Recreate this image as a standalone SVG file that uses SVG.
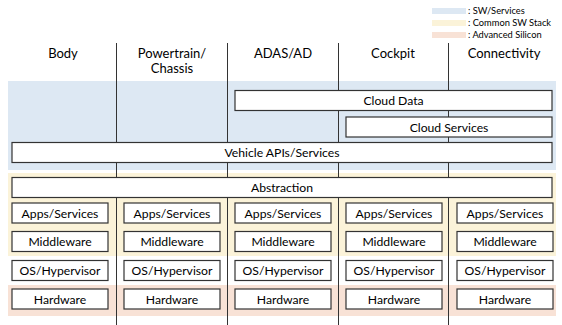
<svg xmlns="http://www.w3.org/2000/svg" width="562" height="325" viewBox="0 0 562 325">
<style>
text{font-family:Lato,"Open Sans",sans-serif;fill:#000;text-anchor:middle}
.h{font-size:13px}
.b{font-size:12.2px}
.lg{font-size:9.3px;text-anchor:start}
.box{fill:#fff;stroke:#333;stroke-width:1.2}
.ln{stroke:#333;stroke-width:1;fill:none}
</style>
<rect width="562" height="325" fill="#fff"/>
<g id="bands">
<rect x="8" y="81" width="548" height="89" fill="#dde8f3"/>
<rect x="8" y="173" width="548" height="83" fill="#fbf3d9"/>
<rect x="8" y="285" width="548" height="31" fill="#f8e2d6"/>
</g>
<g id="legend">
<rect x="432" y="8" width="34" height="6" fill="#dde8f3"/>
<rect x="432" y="20" width="34" height="6" fill="#fbf3d9"/>
<rect x="432" y="32" width="34" height="6" fill="#f8e2d6"/>
<text class="lg" x="468" y="14">: SW/Services</text>
<text class="lg" x="468" y="26">: Common SW Stack</text>
<text class="lg" x="468" y="38">: Advanced Silicon</text>
</g>
<g id="connectors">
<line class="ln" x1="116.5" y1="43" x2="116.5" y2="325"/>
<line class="ln" x1="227.5" y1="43" x2="227.5" y2="325"/>
<line class="ln" x1="338.5" y1="43" x2="338.5" y2="325"/>
<line class="ln" x1="448.5" y1="43" x2="448.5" y2="325"/>
</g>
<g id="headers">
<text class="h" x="63" y="58">Body</text>
<text class="h" x="172" y="58">Powertrain/</text>
<text class="h" x="172" y="73">Chassis</text>
<text class="h" x="283" y="58">ADAS/AD</text>
<text class="h" x="393" y="58">Cockpit</text>
<text class="h" x="504" y="58">Connectivity</text>
</g>
<g id="cloud-data"><rect class="box" x="235" y="90.5" width="317" height="20"/><text class="b" x="393.5" y="105">Cloud Data</text></g>
<g id="cloud-services"><rect class="box" x="346" y="117" width="206" height="20"/><text class="b" x="449" y="131.5">Cloud Services</text></g>
<g id="vehicle-apis"><rect class="box" x="12" y="142.5" width="540" height="20"/><text class="b" x="282" y="157">Vehicle APIs/Services</text></g>
<g id="abstraction"><rect class="box" x="12" y="177.5" width="540" height="20"/><text class="b" x="282" y="192">Abstraction</text></g>
<g id="col1">
<g id="apps1"><rect class="box" x="12" y="203" width="96" height="20"/><text class="b" x="60" y="217.5">Apps/Services</text></g>
<g id="mw1"><rect class="box" x="12" y="231.5" width="96" height="20"/><text class="b" x="60" y="246">Middleware</text></g>
<g id="os1"><rect class="box" x="12" y="260.5" width="96" height="20"/><text class="b" x="60" y="275">OS/Hypervisor</text></g>
<g id="hw1"><rect class="box" x="12" y="289" width="96" height="20"/><text class="b" x="60" y="303.5">Hardware</text></g>
</g>
<g id="col2">
<g id="apps2"><rect class="box" x="124" y="203" width="96" height="20"/><text class="b" x="172" y="217.5">Apps/Services</text></g>
<g id="mw2"><rect class="box" x="124" y="231.5" width="96" height="20"/><text class="b" x="172" y="246">Middleware</text></g>
<g id="os2"><rect class="box" x="124" y="260.5" width="96" height="20"/><text class="b" x="172" y="275">OS/Hypervisor</text></g>
<g id="hw2"><rect class="box" x="124" y="289" width="96" height="20"/><text class="b" x="172" y="303.5">Hardware</text></g>
</g>
<g id="col3">
<g id="apps3"><rect class="box" x="235" y="203" width="96" height="20"/><text class="b" x="283" y="217.5">Apps/Services</text></g>
<g id="mw3"><rect class="box" x="235" y="231.5" width="96" height="20"/><text class="b" x="283" y="246">Middleware</text></g>
<g id="os3"><rect class="box" x="235" y="260.5" width="96" height="20"/><text class="b" x="283" y="275">OS/Hypervisor</text></g>
<g id="hw3"><rect class="box" x="235" y="289" width="96" height="20"/><text class="b" x="283" y="303.5">Hardware</text></g>
</g>
<g id="col4">
<g id="apps4"><rect class="box" x="346" y="203" width="96" height="20"/><text class="b" x="394" y="217.5">Apps/Services</text></g>
<g id="mw4"><rect class="box" x="346" y="231.5" width="96" height="20"/><text class="b" x="394" y="246">Middleware</text></g>
<g id="os4"><rect class="box" x="346" y="260.5" width="96" height="20"/><text class="b" x="394" y="275">OS/Hypervisor</text></g>
<g id="hw4"><rect class="box" x="346" y="289" width="96" height="20"/><text class="b" x="394" y="303.5">Hardware</text></g>
</g>
<g id="col5">
<g id="apps5"><rect class="box" x="457" y="203" width="96" height="20"/><text class="b" x="505" y="217.5">Apps/Services</text></g>
<g id="mw5"><rect class="box" x="457" y="231.5" width="96" height="20"/><text class="b" x="505" y="246">Middleware</text></g>
<g id="os5"><rect class="box" x="457" y="260.5" width="96" height="20"/><text class="b" x="505" y="275">OS/Hypervisor</text></g>
<g id="hw5"><rect class="box" x="457" y="289" width="96" height="20"/><text class="b" x="505" y="303.5">Hardware</text></g>
</g>
</svg>
